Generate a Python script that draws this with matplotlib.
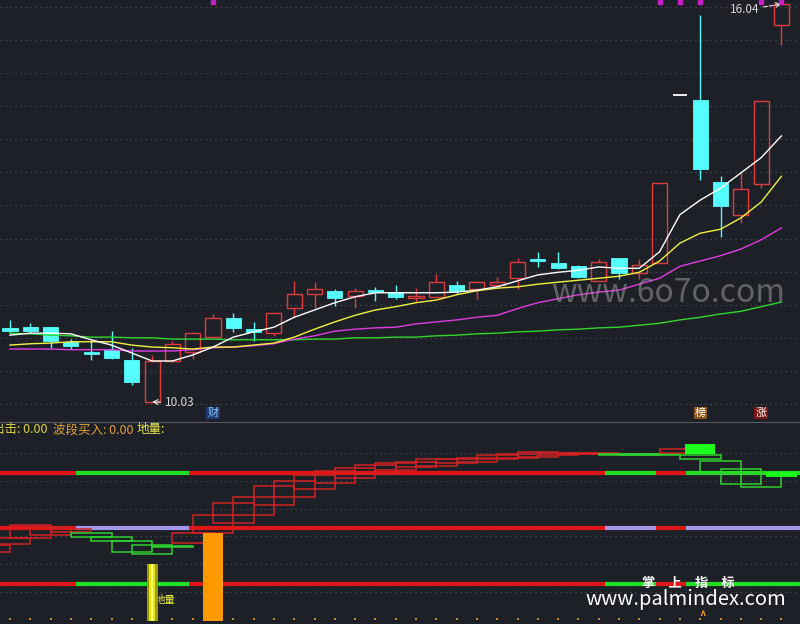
import matplotlib.pyplot as plt
from matplotlib.patches import Rectangle
import numpy as np

plt.rcParams['font.family'] = ['Noto Sans CJK SC', 'DejaVu Sans']

# ---- daily K-line, visible window (39 sessions) ----
opens = [11.15, 11.16, 11.16, 10.94, 10.79, 10.82, 10.66, 10.03, 10.65, 10.79,
         11.01, 11.30, 11.13, 11.07, 11.45, 11.66, 11.71, 11.63, 11.72, 11.69,
         11.60, 11.62, 11.80, 11.74, 11.80, 11.90, 12.19, 12.13, 12.08, 11.86,
         12.21, 11.98, 12.13, 14.67, 14.59, 13.35, 12.86, 13.32, 15.73]
highs = [11.27, 11.22, 11.17, 10.98, 10.97, 11.10, 10.85, 10.74, 10.95, 11.09,
         11.36, 11.37, 11.24, 11.38, 11.86, 11.84, 11.74, 11.75, 11.77, 11.80,
         11.75, 11.96, 11.86, 11.86, 11.92, 12.21, 12.30, 12.30, 12.10, 12.19,
         12.21, 12.19, 13.34, 14.67, 15.88, 13.44, 13.49, 14.58, 16.04]
lows = [11.07, 11.07, 10.85, 10.83, 10.66, 10.68, 10.29, 10.03, 10.63, 10.68,
        11.01, 11.09, 10.95, 11.03, 11.31, 11.45, 11.48, 11.45, 11.56, 11.59,
        11.54, 11.62, 11.66, 11.59, 11.78, 11.74, 12.07, 12.04, 11.90, 11.86,
        11.89, 11.89, 12.13, 14.67, 13.38, 12.52, 12.73, 13.26, 15.42]
closes = [11.10, 11.10, 10.95, 10.88, 10.76, 10.69, 10.33, 10.65, 10.91, 11.07,
          11.30, 11.15, 11.09, 11.37, 11.66, 11.74, 11.60, 11.71, 11.69, 11.62,
          11.63, 11.84, 11.71, 11.84, 11.84, 12.15, 12.16, 12.05, 11.92, 12.15,
          11.98, 12.10, 13.34, 14.67, 13.55, 12.99, 13.25, 14.58, 16.04]

ma5 = [11.04, 11.07, 11.07, 11.06, 10.97, 10.89, 10.77, 10.65, 10.65, 10.74,
       10.86, 11.01, 11.09, 11.16, 11.31, 11.42, 11.53, 11.62, 11.68, 11.68,
       11.68, 11.68, 11.69, 11.72, 11.77, 11.86, 11.95, 11.99, 12.02, 12.07,
       12.05, 12.05, 12.30, 12.86, 13.08, 13.26, 13.49, 13.72, 14.05]
ma10 = [10.89, 10.91, 10.92, 10.94, 10.94, 10.94, 10.89, 10.86, 10.85, 10.83,
        10.86, 10.86, 10.89, 10.92, 11.01, 11.13, 11.24, 11.34, 11.42, 11.47,
        11.53, 11.57, 11.65, 11.71, 11.75, 11.77, 11.81, 11.84, 11.87, 11.90,
        11.93, 11.99, 12.16, 12.43, 12.58, 12.64, 12.81, 13.05, 13.44]
ma20 = [10.83, 10.83, 10.83, 10.82, 10.82, 10.82, 10.80, 10.80, 10.80, 10.82,
        10.85, 10.86, 10.88, 10.91, 10.98, 11.03, 11.10, 11.13, 11.15, 11.16,
        11.21, 11.24, 11.27, 11.31, 11.34, 11.44, 11.53, 11.59, 11.65, 11.69,
        11.72, 11.81, 11.90, 12.08, 12.16, 12.24, 12.34, 12.48, 12.66]
ma60 = [11.07, 11.06, 11.04, 11.03, 11.01, 11.01, 11.00, 11.00, 10.98, 10.98,
        10.98, 10.97, 10.97, 10.97, 10.97, 10.98, 10.98, 11.00, 11.00, 11.01,
        11.01, 11.03, 11.04, 11.06, 11.07, 11.09, 11.10, 11.12, 11.13, 11.15,
        11.16, 11.19, 11.22, 11.27, 11.31, 11.36, 11.40, 11.47, 11.54]

low_day, low_price = 7, 10.03
high_day, high_price = 38, 16.04
flag_days = [10, 32, 33, 34, 37, 38]
tag_days = [10, 34, 37]
tag_text = ['财', '榜', '涨']

# ---- lower indicator panel ----
box_start = list(range(-2, 37))
box_low = [68, 76, 82, 85, 88, 83, 79, 68, 66, 73,
           77, 87, 97, 105, 115, 123, 131, 137, 142, 146,
           150, 153, 154, 157, 158, 161, 162, 163, 165, 166,
           166, 165, 165, 165, 167, 161, 146, 136, 133]
box_high = [75, 82, 95, 93, 91, 87, 83, 79, 75, 74,
            87, 105, 117, 123, 134, 139, 145, 149, 152, 155,
            157, 158, 161, 161, 162, 165, 166, 168, 167, 167,
            167, 166, 166, 166, 171, 165, 159, 151, 146]
box_rise = [1, 1, 1, 1, 1, 0, 0, 0, 0, 0,
            1, 1, 1, 1, 1, 1, 1, 1, 1, 1,
            1, 1, 1, 1, 1, 1, 1, 1, 1, 1,
            1, 0, 0, 0, 1, 0, 0, 0, 0]
block_days = [34, 38]
block_low = [166, 143]
block_high = [176, 148]

line_levels = [147, 92, 36]
seg_edges = [-0.6, 3.25, 8.8, 29.3, 31.8, 33.3, 39.5]
seg_state = [0, 1, 0, 1, 0, 1]

ground_day, ground_val = 7, 57
burst_day, burst_val = 10, 88

BG = '#1e2027'
GRID = '#4b4e58'
RED = '#dc3c3c'
CYAN = '#55ffff'

fig = plt.figure(figsize=(8, 6.24), dpi=100)
fig.patch.set_facecolor(BG)
ax = fig.add_axes([0, 203 / 624, 1, 421 / 624])
axb = fig.add_axes([0, 0, 1, 202 / 624])
for a in (ax, axb):
    a.set_facecolor(BG)
    a.set_xlim(-0.4926, 38.916)
    a.set_xticks([])
    a.set_yticks([])
    for s in a.spines.values():
        s.set_visible(False)
ax.set_ylim(9.743, 16.103)
axb.set_ylim(-4, 198)
axb.spines['top'].set_visible(True)
axb.spines['top'].set_color('#565964')
axb.spines['bottom'].set_visible(True)
axb.spines['bottom'].set_color('#3a3d46')

# price grid
for p in np.arange(10.0, 16.01, 0.5):
    ax.axhline(p, color=GRID, lw=0.9, ls=(0, (1, 3)), zorder=1)

# candles
bw = 0.74
x = np.arange(len(opens))
for i in x:
    o, h, l, c = opens[i], highs[i], lows[i], closes[i]
    if h == l:
        ax.hlines(c, i - 0.35, i + 0.35, color='white', lw=1.3, zorder=3)
        continue
    if c >= o:
        ax.add_patch(Rectangle((i - bw / 2, o), bw, c - o, facecolor='none',
                               edgecolor=RED, lw=1.0, zorder=3))
        ax.vlines(i, c, h, color=RED, lw=1.0, zorder=3)
        ax.vlines(i, l, o, color=RED, lw=1.0, zorder=3)
    else:
        ax.vlines(i, l, h, color=CYAN, lw=1.0, zorder=2)
        ax.add_patch(Rectangle((i - bw / 2, c), bw, o - c, facecolor=CYAN,
                               edgecolor=CYAN, lw=0.6, zorder=3))

ax.plot(x, ma60, color='#2fd62f', lw=1.0, zorder=4)
ax.plot(x, ma20, color='#e03ce0', lw=1.0, zorder=4)
ax.plot(x, ma10, color='#f0f040', lw=1.0, zorder=4)
ax.plot(x, ma5, color='#ffffff', lw=1.0, zorder=5)

ax.plot(flag_days, [16.07] * len(flag_days), 's', color='#c81ec8',
        markersize=3, zorder=6)

ax.annotate(f'{low_price:.2f}', xy=(low_day, low_price), xytext=(9, 0),
            textcoords='offset points', ha='left', va='center',
            color='#d8d8d8', fontsize=8.5,
            arrowprops=dict(arrowstyle='->', color='#e8e8e8', lw=0.8,
                            shrinkA=1, shrinkB=0))
ax.annotate(f'{high_price:.2f}', xy=(high_day, high_price), xytext=(-16, -4),
            textcoords='offset points', ha='right', va='center',
            color='#d8d8d8', fontsize=8.5,
            arrowprops=dict(arrowstyle='->', color='#e8e8e8', lw=0.8,
                            ls='--', shrinkA=1, shrinkB=0))

tag_style = [('#8cc8ff', '#1d3b6e'), ('#ffffff', '#8e5418'), ('#ffffff', '#7a1616')]
for d, t, (fc, bc) in zip(tag_days, tag_text, tag_style):
    ax.text(d, 9.86, t, ha='center', va='center', fontsize=8, color=fc,
            bbox=dict(boxstyle='square,pad=0.1', facecolor=bc, edgecolor='none'),
            zorder=6)

ax.text(0.835, 0.305, 'www.6o7o.com', transform=ax.transAxes, ha='center',
        va='center', fontsize=23, color='#9a9a9a', alpha=0.55, zorder=7)

# ---- lower panel ----
for lev in [167, 139, 111, 84, 56, 28]:
    axb.axhline(lev, color=GRID, lw=0.9, ls=(0, (1, 3)), zorder=1)

alt_colors = ['#22dd22', '#a596ec', '#22dd22']
for lev, alt in zip(line_levels, alt_colors):
    for k, st in enumerate(seg_state):
        axb.hlines(lev, seg_edges[k], seg_edges[k + 1],
                   color=alt if st else '#e01616', lw=3, zorder=2)

for s, lo, hi, up in zip(box_start, box_low, box_high, box_rise):
    axb.add_patch(Rectangle((s, lo), 2, hi - lo, facecolor='none',
                            edgecolor='#d02222' if up else '#2ed02e',
                            lw=1.1, zorder=3))
for d, lo, hi in zip(block_days, block_low, block_high):
    axb.add_patch(Rectangle((d - 0.75, lo), 1.5, hi - lo, facecolor='#1cff1c',
                            edgecolor='none', zorder=4))

axb.text(ground_day + 0.14, 20, '地量', color='#f0f040', fontsize=7.5,
         va='center', ha='left', zorder=2)
axb.bar(ground_day, ground_val, width=0.55, bottom=-1, color='#9c9c00', zorder=3)
axb.bar(ground_day, ground_val, width=0.32, bottom=-1, color='#e6e600', zorder=3)
axb.bar(ground_day, ground_val, width=0.12, bottom=-1, color='#ffff80', zorder=3)
axb.bar(burst_day, burst_val, width=1.03, bottom=-1, color='#ff9900', zorder=3)

axb.scatter(x, np.full(len(x), 1), s=1.5, marker='s', color='#c88a28',
            linewidths=0, zorder=2)

fig.text(-7.5 / 800, 1 - 430 / 624, '出击: 0.00', color='#dcd040', fontsize=9,
         va='center', ha='left')
fig.text(53 / 800, 1 - 430 / 624, '波段买入: 0.00', color='#e0a03c', fontsize=9,
         va='center', ha='left')
fig.text(137 / 800, 1 - 430 / 624, '地量:', color='#ecec50', fontsize=9,
         va='center', ha='left')

axb.text(0.86, 0.205, '掌\u3000上\u3000指\u3000标', transform=axb.transAxes,
         ha='center', va='center', fontsize=9.5, color='white',
         fontweight='bold', zorder=8)
axb.text(0.857, 0.122, 'www.palmindex.com', transform=axb.transAxes,
         ha='center', va='center', fontsize=14.5, color='white', zorder=8)
axb.text(0.878, 0.035, '^', transform=axb.transAxes, ha='center', va='center',
         fontsize=8, color='#f0a030', fontweight='bold', zorder=8)

fig.savefig('out.png', dpi=100, facecolor=BG)
